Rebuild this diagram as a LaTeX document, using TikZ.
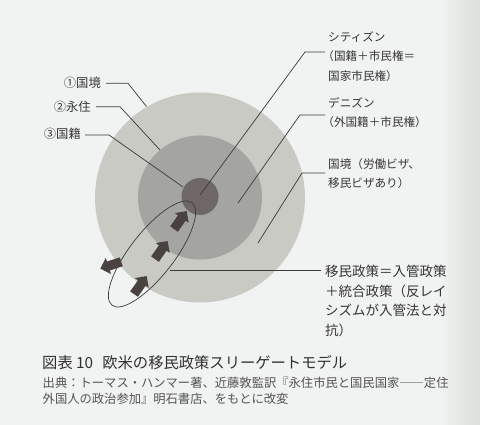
\documentclass[tikz,border=0pt]{standalone}
\usepackage{fontspec}
\newfontfamily\jp{Noto Sans CJK JP}
\usetikzlibrary{shapes.arrows}
\definecolor{bgc}{HTML}{F1F3F2}
\definecolor{edgec}{HTML}{DCDEDB}
\definecolor{outerc}{HTML}{C8CAC3}
\definecolor{midc}{HTML}{A4A5A0}
\definecolor{innerc}{HTML}{6F6766}
\definecolor{arrowc}{HTML}{4A4141}
\definecolor{linec}{HTML}{3A3A3A}
\definecolor{textc}{HTML}{353535}
\begin{document}
\begin{tikzpicture}[x=1pt,y=1pt,
  lead/.style={draw=linec, line width=0.7pt},
  blockarrow/.style={single arrow, fill=arrowc, draw=none, minimum height=22pt,
    inner xsep=0pt, inner ysep=4.5pt, single arrow head extend=3.8pt,
    single arrow tip angle=90},
  lab/.style={font=\jp\fontsize{11.6}{19.5}\selectfont, text=textc, inner sep=0pt, align=left},
  labL/.style={font=\jp\fontsize{12.3}{16}\selectfont, text=textc, inner sep=0pt},
  policy/.style={font=\jp\fontsize{13.5}{19.5}\selectfont, text=textc, inner sep=0pt, align=left},
  title/.style={font=\jp\fontsize{15.3}{18}\selectfont, text=textc!90!black, inner sep=0pt},
  src/.style={font=\jp\fontsize{12.3}{16}\selectfont, text=textc!85, inner sep=0pt, align=left}]
\fill[bgc] (0,0) rectangle (480,425);
\shade[left color=bgc, right color=edgec] (440,0) rectangle (480,425);
\useasboundingbox (0,0) rectangle (480,425);

% rings
\fill[outerc] (200,227.5) circle[radius=105];
\fill[midc] (200,227.5) circle[radius=62];
\fill[innerc] (200,228.5) circle[radius=18.5];

% end points of leaders
\coordinate (e1) at (146.5,318.5);
\coordinate (e2) at (160,275);
\coordinate (e3) at (183,238);
\coordinate (e4) at (200,230);
\coordinate (e5) at (238,222);
\coordinate (e6) at (258,182);
\coordinate (e7) at (170,155);

% left labels
\node[labL, anchor=east] (g1) at (101,341.7) {①国境};
\node[labL, anchor=east] (g2) at (91,318.3) {②永住};
\node[labL, anchor=east] (g3) at (81,291) {③国籍};
\draw[lead] ([xshift=5pt]g1.east) -- ++(22,0) -- (e1);
\draw[lead] ([xshift=5pt]g2.east) -- ++(24,0) -- (e2);
\draw[lead] ([xshift=4pt,yshift=-1pt]g3.east) -- ++(24,0) -- (e3);

% right labels (base = baseline of last line)
\node[lab, anchor=base west] (c1) at (328,344.6) {シティズン\\\hspace*{-0.5em}（国籍＋市民権＝\\国家市民権）};
\node[lab, anchor=base west] (c2) at (328,298.1) {デニズン\\\hspace*{-0.5em}（外国籍＋市民権）};
\node[lab, anchor=base west] (c3) at (328,237.1) {国境（労働ビザ、\\移民ビザあり）};
\draw[lead] ([xshift=-3pt]c1.west |- 0,373) -- (305,373) -- (e4);
\draw[lead] ([xshift=-3pt]c2.west |- 0,310) -- (300,310) -- (e5);
\draw[lead] ([xshift=-3pt]c3.west |- 0,252) -- (302,252) -- (e6);

% policy text
\node[policy, anchor=base west] (c4) at (325,89.7) {移民政策＝入管政策\\＋統合政策（反レイ\\シズムが入管法と対\\抗）};
\draw[lead] ([xshift=-4pt]c4.west |- 0,155) -- (e7);

% ellipse
\draw[linec, line width=0.7pt, rotate around={52:(152,171)}] (152,171) ellipse[x radius=65, y radius=22];

% block arrows
\node[blockarrow, rotate=55] (a1) at (179,203) {};
\node[blockarrow, rotate=55] (a2) at (160,173) {};
\node[blockarrow, rotate=55] (a3) at (139,138) {};
\node[blockarrow, rotate=198] (a4) at (113,160.5) {};

% caption
\node[title, anchor=base west] (t1) at (42,56.5) {図表 10\hspace{0.6em}欧米の移民政策スリーゲートモデル};
\node[src, anchor=base west] (t2) at (42.5,37) {出典：トーマス・ハンマー著、近藤敦監訳『永住市民と国民国家――定住};
\node[src, anchor=base west] (t3) at (42.5,21) {外国人の政治参加』明石書店、をもとに改変};
\end{tikzpicture}
\end{document}
